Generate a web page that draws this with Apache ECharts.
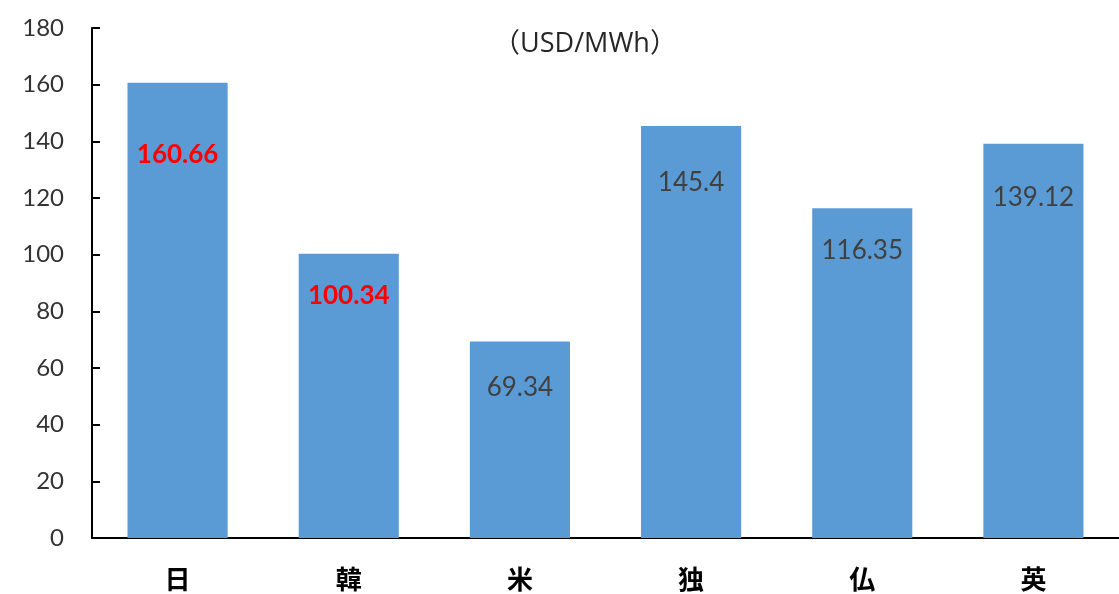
<!DOCTYPE html>
<html lang="ja">
<head>
    <meta charset="UTF-8">
    <title>Electricity price</title>
    <script src="https://cdn.jsdelivr.net/npm/echarts@6/dist/echarts.min.js"></script>
</head>
<body style="margin: 0">
<div id="chart" style="width: 1119px;height: 594px"></div>
<script>
    // data
    const countries = ['日', '韓', '米', '独', '仏', '英'];
    const prices = [160.66, 100.34, 69.34, 145.4, 116.35, 139.12];
    const highlight = [true, true, false, false, false, false];
    // how far below the bar top each label sits
    const labelDist = [59, 29, 33, 44, 29, 41];

    let chart = echarts.init(document.getElementById('chart'));
    let barData = prices.map(function (v, i) {
        return {
            value: v,
            label: {
                distance: labelDist[i],
                color: highlight[i] ? '#ff0000' : '#404040',
                fontWeight: highlight[i] ? 'bold' : 'normal'
            }
        };
    });
    let option = {
        animation: false,
        title: {
            text: '（USD/MWh）',
            left: 580,
            textAlign: 'center',
            top: 26,
            textStyle: {
                fontFamily: "'Open Sans', 'Noto Sans CJK JP'",
                fontSize: 27,
                fontWeight: 'normal',
                color: '#262626'
            }
        },
        grid: {
            left: 92,
            right: 0,
            top: 28,
            bottom: 56
        },
        xAxis: {
            type: 'category',
            data: countries,
            axisLine: {lineStyle: {color: '#000', width: 2}},
            axisTick: {show: false},
            axisLabel: {
                margin: 28,
                fontFamily: 'Noto Sans CJK JP',
                fontSize: 26,
                fontWeight: 'bold',
                color: '#000'
            }
        },
        yAxis: {
            type: 'value',
            min: 0,
            max: 180,
            interval: 20,
            splitLine: {show: false},
            axisLine: {show: true, lineStyle: {color: '#000', width: 2}},
            axisTick: {show: true, inside: true, length: 8, lineStyle: {color: '#000', width: 2}},
            axisLabel: {
                margin: 28,
                fontFamily: 'Lato',
                fontSize: 24,
                color: '#333'
            }
        },
        series: [{
            type: 'bar',
            data: barData,
            barWidth: '58.5%',
            itemStyle: {color: '#5b9bd5'},
            label: {
                show: true,
                position: 'insideTop',
                fontFamily: 'Lato',
                fontSize: 26
            }
        }]
    };
    chart.setOption(option);
</script>
</body>
</html>
